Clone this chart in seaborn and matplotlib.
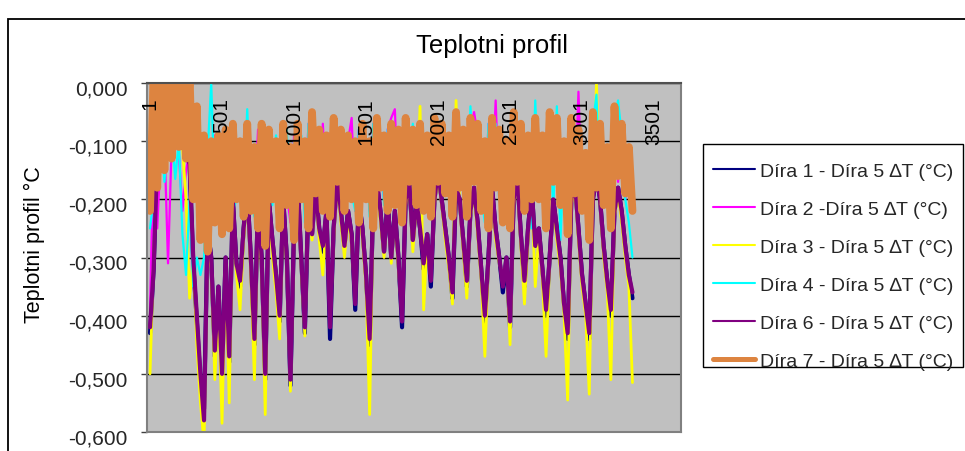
import numpy as np
import pandas as pd
import seaborn as sns
import matplotlib
matplotlib.use("Agg")
import matplotlib.pyplot as plt
from matplotlib.patches import Rectangle
from matplotlib.transforms import ScaledTranslation, blended_transform_factory

# ---------------- data (every 25th sample) ----------------
sample_index = list(range(1, 3352, 25))  # category numbers 1 .. 3351

dira1 = [-0.43, -0.32, -0.13, -0.1, -0.12, -0.1, -0.09, -0.1, -0.1, -0.11, -0.12, -0.14, -0.31, -0.41, -0.51,
         -0.56, -0.25, -0.3, -0.47, -0.35, -0.5, -0.3, -0.48, -0.2, -0.31, -0.35, -0.25, -0.18, -0.3, -0.45,
         -0.2, -0.3, -0.51, -0.2, -0.27, -0.33, -0.41, -0.2, -0.3, -0.52, -0.25, -0.17, -0.3, -0.43, -0.2,
         -0.26, -0.18, -0.25, -0.29, -0.22, -0.44, -0.25, -0.16, -0.22, -0.28, -0.22, -0.26, -0.39, -0.2, -0.25,
         -0.33, -0.45, -0.2, -0.17, -0.22, -0.29, -0.2, -0.3, -0.22, -0.3, -0.42, -0.2, -0.17, -0.27, -0.2,
         -0.25, -0.32, -0.26, -0.35, -0.2, -0.15, -0.2, -0.25, -0.3, -0.37, -0.18, -0.2, -0.27, -0.35, -0.22,
         -0.18, -0.24, -0.32, -0.41, -0.3, -0.18, -0.25, -0.3, -0.36, -0.3, -0.42, -0.2, -0.16, -0.26, -0.35,
         -0.25, -0.18, -0.28, -0.25, -0.32, -0.4, -0.3, -0.2, -0.25, -0.3, -0.38, -0.44, -0.2, -0.17, -0.25,
         -0.33, -0.38, -0.44, -0.2, -0.16, -0.2, -0.28, -0.34, -0.4, -0.22, -0.18, -0.22, -0.28, -0.33, -0.37]

dira2 = [-0.39, -0.11, -0.25, -0.12, -0.1, -0.31, -0.11, -0.1, -0.12, -0.22, -0.15, -0.12, -0.2, -0.11, -0.22,
         -0.26, -0.1, -0.21, -0.09, -0.22, -0.1, -0.2, -0.23, -0.09, -0.19, -0.11, -0.2, -0.08, -0.18, -0.22,
         -0.08, -0.09, -0.24, -0.1, -0.2, -0.11, -0.22, -0.08, -0.19, -0.24, -0.09, -0.17, -0.11, -0.22, -0.07,
         -0.18, -0.09, -0.19, -0.07, -0.2, -0.2, -0.08, -0.17, -0.1, -0.2, -0.1, -0.06, -0.22, -0.08, -0.19,
         -0.1, -0.22, -0.07, -0.18, -0.1, -0.2, -0.08, -0.06, -0.045, -0.2, -0.23, -0.07, -0.17, -0.09, -0.19,
         -0.08, -0.2, -0.1, -0.21, -0.07, -0.17, -0.08, -0.18, -0.1, -0.21, -0.06, -0.18, -0.09, -0.21, -0.08,
         -0.05, -0.09, -0.19, -0.23, -0.07, -0.18, -0.03, -0.2, -0.22, -0.1, -0.22, -0.05, -0.17, -0.08, -0.21,
         -0.1, -0.18, -0.07, -0.2, -0.1, -0.23, -0.07, -0.17, -0.08, -0.2, -0.12, -0.24, -0.09, -0.2, -0.015,
         -0.2, -0.14, -0.25, -0.07, -0.18, -0.09, -0.2, -0.13, -0.14, -0.06, -0.17, -0.09, -0.2, -0.13, -0.22]

dira3 = [-0.5, -0.3, -0.13, -0.1, -0.12, -0.1, -0.1, -0.1, -0.1, -0.11, -0.2, -0.37, -0.3, -0.45, -0.55,
         -0.62, -0.28, -0.32, -0.51, -0.38, -0.585, -0.32, -0.55, -0.22, -0.33, -0.39, -0.27, -0.19, -0.33, -0.51,
         -0.22, -0.32, -0.57, -0.21, -0.3, -0.36, -0.44, -0.21, -0.32, -0.53, -0.27, -0.18, -0.32, -0.435, -0.21,
         -0.27, -0.19, -0.27, -0.33, -0.23, -0.41, -0.27, -0.17, -0.24, -0.3, -0.23, -0.28, -0.37, -0.21, -0.27,
         -0.35, -0.57, -0.21, -0.18, -0.24, -0.3, -0.21, -0.31, -0.23, -0.32, -0.4, -0.21, -0.18, -0.29, -0.21,
         -0.04, -0.39, -0.27, -0.34, -0.21, -0.16, -0.21, -0.27, -0.32, -0.38, -0.03, -0.21, -0.29, -0.37, -0.23,
         -0.19, -0.26, -0.34, -0.47, -0.31, -0.19, -0.27, -0.31, -0.33, -0.31, -0.45, -0.21, -0.17, -0.28, -0.38,
         -0.27, -0.19, -0.35, -0.26, -0.34, -0.47, -0.31, -0.21, -0.27, -0.32, -0.4, -0.545, -0.21, -0.18, -0.27,
         -0.35, -0.4, -0.535, -0.21, 0.0, -0.21, -0.3, -0.36, -0.51, -0.23, -0.19, -0.24, -0.3, -0.35, -0.515]

dira4 = [-0.25, -0.2, -0.16, -0.08, -0.17, -0.09, -0.08, -0.165, -0.1, -0.26, -0.33, -0.2, -0.35, -0.3, -0.33,
         -0.3, -0.12, 0.0, -0.2, -0.1, -0.22, -0.09, -0.21, -0.22, -0.2, -0.1, -0.2, -0.045, -0.2, -0.23,
         -0.22, -0.09, -0.24, -0.1, -0.21, -0.09, -0.2, -0.21, -0.08, -0.23, -0.1, -0.17, -0.09, -0.24, -0.07,
         -0.18, -0.08, -0.19, -0.1, -0.2, -0.21, -0.07, -0.17, -0.09, -0.2, -0.09, -0.19, -0.22, -0.08, -0.19,
         -0.1, -0.23, -0.07, -0.17, -0.09, -0.21, -0.08, -0.19, -0.08, -0.2, -0.23, -0.07, -0.16, -0.07, -0.2,
         -0.08, -0.21, -0.1, -0.22, -0.07, -0.16, -0.08, -0.18, -0.1, -0.21, -0.05, -0.17, -0.09, -0.22, -0.04,
         -0.17, -0.08, -0.19, -0.24, -0.07, -0.17, -0.07, -0.2, -0.23, -0.1, -0.24, -0.06, -0.16, -0.08, -0.21,
         -0.1, -0.25, -0.03, -0.2, -0.1, -0.24, -0.07, -0.22, -0.04, -0.27, -0.12, -0.25, -0.08, -0.19, -0.1,
         -0.21, -0.14, -0.26, -0.07, -0.02, -0.19, -0.2, -0.13, -0.24, -0.06, -0.03, -0.09, -0.2, -0.24, -0.3]

dira6 = [-0.42, -0.32, -0.13, -0.1, -0.12, -0.1, -0.09, -0.1, -0.1, -0.11, -0.12, -0.14, -0.3, -0.4, -0.5,
         -0.58, -0.25, -0.3, -0.46, -0.35, -0.5, -0.3, -0.47, -0.2, -0.31, -0.34, -0.25, -0.18, -0.3, -0.44,
         -0.2, -0.3, -0.5, -0.2, -0.27, -0.33, -0.4, -0.2, -0.3, -0.51, -0.25, -0.17, -0.3, -0.42, -0.2,
         -0.26, -0.18, -0.25, -0.28, -0.22, -0.42, -0.25, -0.16, -0.22, -0.28, -0.22, -0.26, -0.38, -0.2, -0.25,
         -0.33, -0.44, -0.2, -0.17, -0.22, -0.29, -0.2, -0.3, -0.22, -0.3, -0.41, -0.2, -0.17, -0.27, -0.2,
         -0.25, -0.31, -0.26, -0.34, -0.2, -0.15, -0.2, -0.25, -0.3, -0.36, -0.18, -0.2, -0.27, -0.34, -0.22,
         -0.18, -0.24, -0.32, -0.4, -0.3, -0.18, -0.25, -0.3, -0.35, -0.3, -0.41, -0.2, -0.16, -0.26, -0.34,
         -0.25, -0.18, -0.28, -0.25, -0.32, -0.39, -0.3, -0.2, -0.25, -0.3, -0.38, -0.43, -0.2, -0.17, -0.25,
         -0.33, -0.38, -0.43, -0.2, -0.16, -0.2, -0.28, -0.34, -0.39, -0.22, -0.18, -0.22, -0.28, -0.33, -0.36]

dira7 = [-0.22, 0.02, -0.18, 0.02, -0.15, 0.02, -0.13, 0.02, -0.11, 0.02, -0.13, 0.01, -0.2, -0.04, -0.27,
         -0.09, -0.29, -0.1, -0.24, -0.09, -0.26, -0.08, -0.25, -0.07, -0.2, -0.1, -0.23, -0.07, -0.22, -0.11,
         -0.25, -0.07, -0.28, -0.08, -0.2, -0.1, -0.25, -0.07, -0.21, -0.11, -0.27, -0.07, -0.2, -0.1, -0.25,
         -0.05, -0.19, -0.08, -0.22, -0.09, -0.23, -0.06, -0.17, -0.08, -0.22, -0.09, -0.2, -0.1, -0.24, -0.07,
         -0.2, -0.1, -0.25, -0.06, -0.18, -0.09, -0.22, -0.07, -0.21, -0.08, -0.24, -0.06, -0.17, -0.08, -0.21,
         -0.07, -0.22, -0.09, -0.23, -0.06, -0.17, -0.07, -0.19, -0.09, -0.23, -0.05, -0.18, -0.08, -0.23, -0.06,
         -0.17, -0.07, -0.22, -0.1, -0.25, -0.06, -0.18, -0.08, -0.24, -0.1, -0.25, -0.05, -0.17, -0.07, -0.22,
         -0.09, -0.2, -0.06, -0.2, -0.09, -0.25, -0.05, -0.17, -0.06, -0.21, -0.1, -0.26, -0.06, -0.19, -0.08,
         -0.22, -0.12, -0.27, -0.05, -0.18, -0.07, -0.21, -0.11, -0.25, -0.04, -0.16, -0.07, -0.19, -0.11, -0.22]

series_names = ["Díra 1 - Díra 5 \u2206T (°C)", "Díra 2 -Díra 5 \u2206T (°C)",
                "Díra 3 - Díra 5 \u2206T (°C)", "Díra 4 - Díra 5 \u2206T (°C)",
                "Díra 6 - Díra 5 \u2206T (°C)", "Díra 7 - Díra 5 \u2206T (°C)"]
series_values = [dira1, dira2, dira3, dira4, dira6, dira7]
series_colors = ["#000080", "#FF00FF", "#FFFF00", "#00FFFF", "#800080", "#DD8440"]
plot_widths = [3.0, 1.6, 2.0, 1.6, 3.0, 5.6]
legend_widths = [1.5, 1.5, 1.5, 1.5, 1.5, 3.6]

xtick_values = [1, 501, 1001, 1501, 2001, 2501, 3001, 3501]
xtick_labels = ["1", "501", "1001", "1501", "2001", "2501", "3001", "3501"]
ytick_values = [0.0, -0.1, -0.2, -0.3, -0.4, -0.5, -0.6]
ytick_labels = ["0,000", "-0,100", "-0,200", "-0,300", "-0,400", "-0,500", "-0,600"]

title = "Teplotni profil"
ylabel = "Teplotni profil °C"

# ---------------- drawing ----------------
sns.set_theme(style="white")
plt.rcParams["font.family"] = ["Liberation Sans", "DejaVu Sans"]

fig = plt.figure(figsize=(9.65, 4.52), dpi=100)
ax = fig.add_axes([147 / 965, 19 / 452, 534 / 965, 349 / 452])
ax.set_facecolor("#C0C0C0")
ax.set_axisbelow(True)

for name, vals, col, lw in zip(series_names, series_values, series_colors, plot_widths):
    sns.lineplot(x=sample_index, y=vals, color=col, linewidth=lw, ax=ax,
                 estimator=None, legend=False)

ax.set_xlim(-20, 3688)
ax.set_ylim(-0.6, 0.0)

ax.set_yticks(ytick_values)
ax.set_yticklabels(ytick_labels, fontsize=15)
ax.tick_params(axis="y", direction="out", length=4, width=1, color="#404040", pad=10, left=True)
off = ScaledTranslation(0, -4 / 100, fig.dpi_scale_trans)
for lab in ax.get_yticklabels():
    lab.set_transform(lab.get_transform() + off)
ax.yaxis.grid(True, color="black", linewidth=1.0)
ax.xaxis.grid(False)

ax.set_xticks([])
trans = blended_transform_factory(ax.transData, ax.transAxes)
for xv, lab in zip(xtick_values, xtick_labels):
    ax.text(xv, 1 - 14 / 349, lab, rotation=90, ha="center", va="top",
            fontsize=15, transform=trans, color="black")

for side in ["left", "right", "bottom"]:
    ax.spines[side].set_color("#808080")
    ax.spines[side].set_linewidth(1.5)
ax.spines["top"].set_color("#505050")
ax.spines["top"].set_linewidth(1.5)

ax.set_ylabel(ylabel, fontsize=15.5, color="black")
ax.yaxis.set_label_coords((45 - 147) / 534, (433 - 245) / 349)

fig.text(492 / 965, 1 - 46 / 452, title, ha="center", va="center", fontsize=18.5, color="black")

handles = [plt.Line2D([], [], color=c, lw=w) for c, w in zip(series_colors, legend_widths)]
leg = ax.legend(handles, series_names, loc="upper left",
                bbox_to_anchor=(713 / 965, 1 - 163 / 452), bbox_transform=fig.transFigure,
                frameon=False, fontsize=14, handlelength=2.16, handletextpad=0.26,
                labelspacing=1.05, borderpad=0, borderaxespad=0)
fig.add_artist(Rectangle((703 / 965, 1 - 368 / 452), 260 / 965, 223 / 452, transform=fig.transFigure,
                         facecolor="white", edgecolor="black", linewidth=1.0, zorder=0))

fig.add_artist(Rectangle((8 / 965, -0.1), 1.2, 1.1 - 20 / 452, transform=fig.transFigure,
                         fill=False, edgecolor="black", linewidth=1.3, clip_on=False))

fig.savefig("out.png", dpi=100)
